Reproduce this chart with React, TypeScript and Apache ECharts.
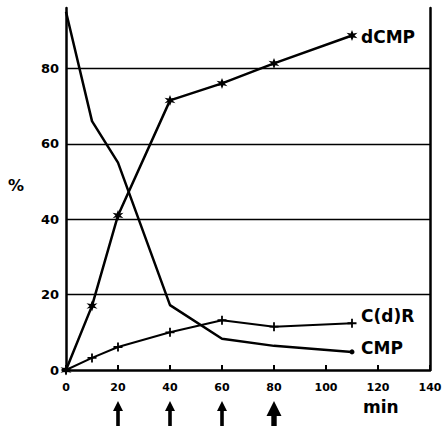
import React, { useEffect, useRef } from "react";
import * as echarts from "echarts";

const times = [0, 10, 20, 40, 60, 80, 110];
const dCMP = [0, 17, 41, 71.5, 76, 81.3, 88.7];
const CdR = [0, 3.2, 6.1, 10, 13.2, 11.5, 12.4];
const CMP = [95, 66, 55, 17.2, 8.3, 6.4, 4.8];
const gridLines = [20, 40, 60, 80];
const arrowTimes = [20, 40, 60, 80];
const arrowScale = [1, 1, 1, 1.5];

const FONT = "DejaVu Sans";
const STAR =
  "path://M0,-10 L2.2,-3.5 L8.7,-5 L4,0 L8.7,5 L2.2,3.5 L0,10 L-2.2,3.5 L-8.7,5 L-4,0 L-8.7,-5 L-2.2,-3.5 Z";
const PLUS = "path://M-1.2,-6 H1.2 V-1.2 H6 V1.2 H1.2 V6 H-1.2 V1.2 H-6 V-1.2 H-1.2 Z";

export default function App() {
  const ref = useRef<HTMLDivElement>(null);
  useEffect(() => {
    const chart = echarts.init(ref.current!, null, { renderer: "svg" });
    const pairs = (ys: number[]) => times.map((t, i) => [t, ys[i]]);
    const endLabel = (dy: number) => ({
      show: true,
      formatter: "{a}",
      color: "#000",
      fontFamily: FONT,
      fontWeight: "bold" as const,
      fontSize: 17,
      distance: 9,
      offset: [0, dy],
    });
    chart.setOption({
      animation: false,
      backgroundColor: "#fff",
      grid: { left: 66, right: 15, top: 8, bottom: 56 },
      xAxis: {
        type: "value",
        min: 0,
        max: 140,
        interval: 20,
        axisLine: { lineStyle: { color: "#000", width: 2.5 } },
        axisTick: { show: true, inside: true, length: 5, lineStyle: { color: "#000", width: 2 } },
        axisLabel: { color: "#000", fontFamily: FONT, fontWeight: "bold", fontSize: 11, margin: 12 },
        splitLine: { show: false },
      },
      yAxis: [
        {
          type: "value",
          min: 0,
          max: 96,
          interval: 20,
          axisLine: { show: true, lineStyle: { color: "#000", width: 2.5 } },
          axisTick: { show: false },
          axisLabel: {
            color: "#000",
            fontFamily: FONT,
            fontWeight: "bold",
            fontSize: 13,
            margin: 7,
            showMaxLabel: false,
          },
          splitLine: { show: false },
        },
        {
          type: "value",
          position: "right",
          min: 0,
          max: 96,
          interval: 20,
          axisLine: { show: true, lineStyle: { color: "#000", width: 2.5 } },
          axisTick: { show: false },
          axisLabel: { show: false },
          splitLine: { show: false },
        },
      ],
      series: [
        {
          name: "dCMP",
          type: "line",
          data: pairs(dCMP),
          symbol: STAR,
          symbolSize: 11,
          itemStyle: { color: "#000" },
          lineStyle: { color: "#000", width: 2.5 },
          endLabel: endLabel(1),
          markLine: {
            silent: true,
            symbol: "none",
            label: { show: false },
            lineStyle: { color: "#000", width: 1.3, type: "solid" },
            data: gridLines.map((v) => ({ yAxis: v })),
          },
        },
        {
          name: "C(d)R",
          type: "line",
          data: pairs(CdR),
          symbol: PLUS,
          symbolSize: 9,
          itemStyle: { color: "#000" },
          lineStyle: { color: "#000", width: 2 },
          endLabel: endLabel(-7),
        },
        {
          name: "CMP",
          type: "line",
          data: pairs(CMP).map((p, i) =>
            i === times.length - 1 ? { value: p, symbolSize: 5 } : { value: p }
          ),
          symbol: "circle",
          symbolSize: 0,
          itemStyle: { color: "#000" },
          lineStyle: { color: "#000", width: 2.5 },
          endLabel: endLabel(-4),
        },
      ],
    });

    const arrows: any[] = arrowTimes.map((t, i) => {
      const x = chart.convertToPixel({ xAxisIndex: 0 }, t) as number;
      const s = arrowScale[i];
      const top = 401;
      const hw = 5 * s;
      const hh = 10 * s;
      const sw = 1.8 * s;
      const bottom = 426;
      return {
        type: "polygon",
        shape: {
          points: [
            [x, top],
            [x + hw, top + hh],
            [x + sw, top + hh],
            [x + sw, bottom],
            [x - sw, bottom],
            [x - sw, top + hh],
            [x - hw, top + hh],
          ],
        },
        style: { fill: "#000" },
      };
    });
    chart.setOption({
      graphic: [
        ...arrows,
        {
          type: "text",
          left: 8,
          top: 177,
          style: { text: "%", fontFamily: FONT, fontWeight: "bold", fontSize: 16, fill: "#000" },
        },
        {
          type: "text",
          left: 363,
          top: 398,
          style: { text: "min", fontFamily: FONT, fontWeight: "bold", fontSize: 17, fill: "#000" },
        },
      ],
    });
    return () => chart.dispose();
  }, []);
  return (
    <div
      ref={ref}
      style={{ position: "fixed", left: 0, top: 0, width: 445, height: 426 }}
    />
  );
}
